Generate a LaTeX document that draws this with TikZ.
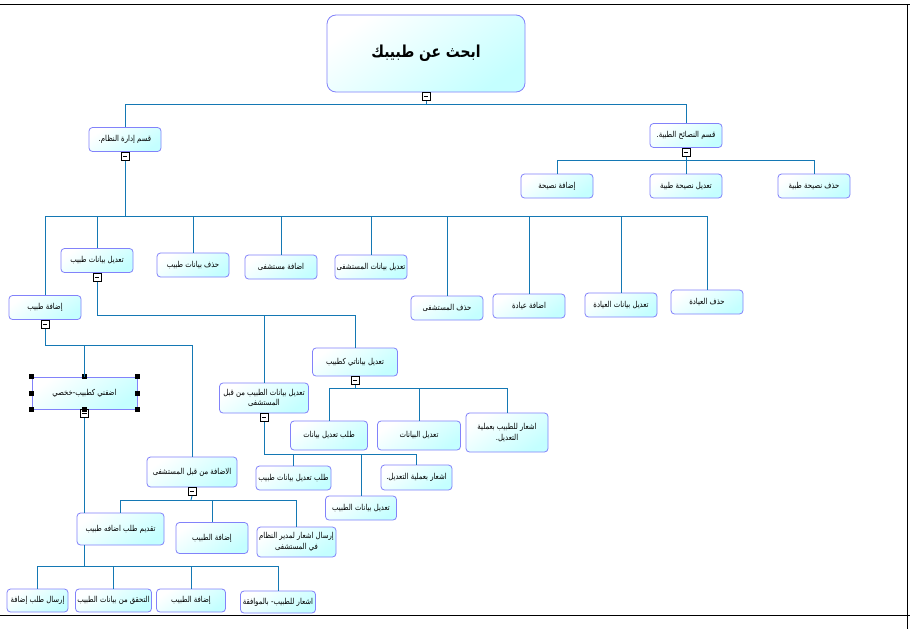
\documentclass[tikz,border=0pt]{standalone}
\usepackage{fontspec}
\newfontfamily\arabicfont[Script=Arabic,FakeStretch=0.84]{DejaVu Sans}
\TeXXeTstate=1
\newcommand\artxt[1]{{\arabicfont\beginR #1\endR}}
\newcommand\sep{\kern0pt}
\definecolor{boxborder}{RGB}{130,130,250}
\definecolor{boxcyan}{RGB}{196,255,255}
\definecolor{linecol}{RGB}{20,120,180}
\tikzset{
  box/.style={draw=boxborder, line width=0.8pt, rounded corners=3.5pt,
    top color=white, bottom color=boxcyan, shading angle=35,
    inner sep=1pt, align=center, font=\fontsize{8.2}{10.5}\selectfont,
    minimum width=72pt, minimum height=24pt},
  conn/.style={draw=linecol, line width=0.9pt},
  tog/.style={draw=black, fill=white, line width=0.6pt, minimum size=8pt, inner sep=0pt,
    anchor=north,
    path picture={\draw[line width=0.7pt] ([xshift=1.8pt]path picture bounding box.west) -- ([xshift=-1.8pt]path picture bounding box.east);}},
  handle/.style={fill=black, minimum size=5pt, inner sep=0pt},
  pageline/.style={draw=black, line width=0.8pt}
}
\begin{document}
\begin{tikzpicture}[x=1pt,y=-1pt]
\useasboundingbox[fill=white] (0,0) rectangle (910,629);
% page frame lines
\draw[pageline] (0,4.5) -- (910,4.5);
\draw[pageline] (0,615) -- (910,615);
\draw[pageline] (907,4.5) -- (907,629);

% root
\node[box, minimum width=198pt, minimum height=77pt, rounded corners=9pt,
  font=\fontsize{16.5}{19}\selectfont\bfseries] (root) at (426,53.5) {\artxt{ابحث عن طبيبك}};
\node[tog] (rootT) at (root.south) {};

\node[box] (adm) at (125,139.5) {\artxt{قسم إدارة النظام\sep.}};
\node[tog] (admT) at (adm.south) {};
\node[box] (adv) at (686,135.5) {\artxt{قسم النصائح الطبية\sep.}};
\node[tog] (advT) at (adv.south) {};

\node[box] (adv1) at (557,186) {\artxt{إضافة نصيحة}};
\node[box] (adv2) at (686,186) {\artxt{تعديل نصيحة طبية}};
\node[box] (adv3) at (814,186) {\artxt{حذف نصيحة طبية}};

\node[box] (a1) at (45,307.5) {\artxt{إضافة طبيب}};
\node[tog] (a1T) at (a1.south) {};
\node[box] (a2) at (97,260.5) {\artxt{تعديل بيانات طبيب}};
\node[tog] (a2T) at (a2.south) {};
\node[box] (a3) at (193,265) {\artxt{حذف بيانات طبيب}};
\node[box] (a4) at (281,267) {\artxt{اضافة مستشفى}};
\node[box] (a5) at (371,267) {\artxt{تعديل بيانات المستشفى}};
\node[box] (a6) at (447,308) {\artxt{حذف المستشفى}};
\node[box] (a7) at (529,306) {\artxt{اضافة عيادة}};
\node[box] (a8) at (621,305) {\artxt{تعديل بيانات العيادة}};
\node[box] (a9) at (707,302) {\artxt{حذف العيادة}};

\node[box, minimum width=89pt, minimum height=30pt] (b1) at (264,398)
  {\artxt{تعديل بيانات الطبيب من قبل}\\\artxt{المستشفى}};
\node[tog] (b1T) at (b1.south) {};
\node[box, minimum width=85pt, minimum height=28pt] (b2) at (355,362) {\artxt{تعديل بياناتي كطبيب}};
\node[tog] (b2T) at (b2.south) {};

\node[box, minimum width=77pt, minimum height=29pt] (c1) at (329,435.5) {\artxt{طلب تعديل بيانات}};
\node[box, minimum width=83pt, minimum height=29pt] (c2) at (419,435.5) {\artxt{تعديل البيانات}};
\node[box, minimum width=82pt, minimum height=39pt] (c3) at (507,432.5)
  {\artxt{اشعار للطبيب بعملية}\\\artxt{التعديل\sep.}};

\node[box, minimum width=75pt] (d1) at (293.5,478) {\artxt{طلب تعديل بيانات طبيب}};
\node[box, minimum width=71pt] (d2) at (361,508) {\artxt{تعديل بيانات الطبيب}};
\node[box, minimum width=71pt, minimum height=25pt] (d3) at (416.5,477.5) {\artxt{اشعار بعملية التعديل\sep.}};

\node[box, minimum width=105pt, minimum height=32pt, rounded corners=0pt] (e1) at (84.5,393) {\artxt{اضفني كطبيب\sep-\sep خخصي}};
\node[tog] (e1T) at (e1.south) {};
\foreach \a in {north west, north, north east, west, east, south west, south, south east}
  \node[handle] at (e1.\a) {};
\node[box, minimum width=90pt, minimum height=30pt] (e2) at (192,472) {\artxt{الاضافة من قبل المستشفى}};
\node[tog] (e2T) at (e2.south) {};

\node[box, minimum width=87pt, minimum height=32pt] (f1) at (120.5,529) {\artxt{تقديم طلب اضافه طبيب}};
\node[box, minimum width=72pt, minimum height=31pt] (f2) at (212,538) {\artxt{إضافة الطبيب}};
\node[box, minimum width=79pt, minimum height=30pt] (f3) at (296.5,542)
  {\artxt{إرسال اشعار لمدير النظام}\\\artxt{في المستشفى}};

\node[box, minimum width=61pt, minimum height=23pt] (g1) at (37.5,600.5) {\artxt{إرسال طلب إضافة}};
\node[box, minimum width=76pt, minimum height=23pt] (g2) at (113.5,600.5) {\artxt{التحقق من بيانات الطبيب}};
\node[box, minimum width=69pt, minimum height=23pt] (g3) at (191,600.5) {\artxt{إضافة الطبيب}};
\node[box, minimum width=75pt, minimum height=22pt] (g4) at (278,602) {\artxt{اشعار للطبيب\sep-\sep\ بالموافقة}};

% junctions
\coordinate (j1) at (426,104);
\coordinate (j2) at (686,160);
\coordinate (j3) at (125,216);
\coordinate (j4) at (97,315);
\coordinate (j5) at (355,388);
\coordinate (j6) at (264,454);
\coordinate (j7) at (45,345);
\coordinate (j8) at (191,500);
\coordinate (j9) at (84,566);

\draw[conn] (rootT.south) -- (j1);
\draw[conn] (j1) -| (adm.north);
\draw[conn] (j1) -| (adv.north);
\draw[conn] (advT.south) -- (j2);
\foreach \n in {adv1,adv2,adv3} \draw[conn] (j2) -| (\n.north);
\draw[conn] (admT.south) -- (j3);
\foreach \n in {a1,a2,a3,a4,a5,a6,a7,a8,a9} \draw[conn] (j3) -| (\n.north);
\draw[conn] (a2T.south) -- (j4);
\draw[conn] (j4) -| (b1.north);
\draw[conn] (j4) -| (b2.north);
\draw[conn] (b2T.south) -- (j5);
\foreach \n in {c1,c2,c3} \draw[conn] (j5) -| (\n.north);
\draw[conn] (b1T.south) -- (j6);
\foreach \n in {d1,d2,d3} \draw[conn] (j6) -| (\n.north);
\draw[conn] (a1T.south) -- (j7);
\draw[conn] (j7) -| (e1.north);
\draw[conn] (j7) -| (e2.north);
\draw[conn] (e2T.south) -- (j8);
\foreach \n in {f1,f2,f3} \draw[conn] (j8) -| (\n.north);
\draw[conn] (e1T.south) -- (e1T.south |- f1.north);
\draw[conn] (j9 |- f1.south) -- (j9);
\foreach \n in {g1,g2,g3,g4} \draw[conn] (j9) -| (\n.north);
\end{tikzpicture}
\end{document}
